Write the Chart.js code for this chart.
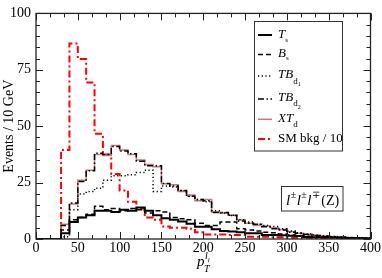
<!DOCTYPE html>
<html>
<head>
<meta charset="utf-8">
<script src="https://cdn.jsdelivr.net/npm/chart.js@4.4.1/dist/chart.umd.min.js"></script>
<style>
  html, body { margin: 0; padding: 0; background: #fff; }
</style>
</head>
<body>
<canvas id="c" width="382" height="278"></canvas>
<script>
// p_T bins, 10 GeV wide (lower edges)
const binLow = [0, 10, 20, 30, 40, 50, 60, 70, 80, 90,
                100, 110, 120, 130, 140, 150, 160, 170, 180, 190,
                200, 210, 220, 230, 240, 250, 260, 270, 280, 290,
                300, 310, 320, 330, 340, 350, 360, 370, 380, 390];
const binWidth = 10;

const Ts = [0, 0, 0, 2.5, 7.5, 9.5, 10.5, 12.5, 12.5, 12,
            13, 12.5, 14, 12.5, 10.5, 9.2, 8.5, 7.8, 6.8, 5.4,
            5.4, 4.3, 3.5, 3.3, 3, 2.6, 2.5, 1.8, 1.8, 1.7,
            1.4, 1.3, 0.9, 0.8, 0.8, 0.7, 0.5, 0.4, 0.3, 0.2];
const Bs = [0, 0, 0, 4, 8.5, 9.5, 11, 14.5, 13, 13.5,
            12.5, 13.5, 13, 11.5, 12.5, 12, 9.5, 9, 8.5, 7,
            6, 6, 7.5, 7.5, 4.5, 4, 3.5, 3, 2.8, 2.2,
            1.8, 1.5, 1.2, 1.0, 0.9, 0.7, 0.6, 0.5, 0.4, 0.3];
const TBd1 = [0, 0, 0, 1, 13, 20, 21, 22.5, 26, 28,
              28, 28.5, 29.5, 30.5, 21, 23.5, 23, 21.5, 19, 17.5,
              16.5, 12.5, 11.5, 10.5, 8.5, 7.5, 6.5, 6, 5.5, 4.5,
              3.5, 2.8, 2.2, 1.8, 1.3, 1.1, 0.9, 0.7, 0.5, 0.4];
const TBd2 = [0, 0, 0, 6, 16, 25.5, 30.3, 38, 37.5, 41,
              39, 37.8, 34.5, 32.5, 32.5, 24.6, 23.5, 21.5, 19, 17.5,
              17, 11.8, 11.8, 10.4, 8, 7, 6.5, 5.4, 4.5, 4,
              3, 2.5, 2, 1.5, 1.2, 1, 0.8, 0.6, 0.5, 0.3];
const XTd = [0, 0, 0, 6.5, 15.5, 26, 30.5, 37.5, 37, 41.5,
             39.5, 37.5, 35, 33, 32, 24.5, 24, 21, 19.5, 17,
             17.5, 12, 11.5, 10.5, 8.5, 7, 6, 5.8, 5, 4.2,
             3.2, 2.6, 2.1, 1.6, 1.3, 1.1, 0.9, 0.7, 0.5, 0.4];
const smBkg = [0, 0, 0, 39.5, 86.7, 79.8, 69.4, 46.6, 37.5, 28.8,
               21.5, 16.5, 13.5, 9.5, 8.5, 5.5, 5.0, 5.0, 4.5, 3.0,
               2.0, 2.0, 2.0, 1.8, 1.8, 1.0, 1.0, 1.0, 0.8, 0.8,
               0.6, 0.5, 0.5, 0.4, 0.3, 0.3, 0.2, 0.2, 0.1, 0.1];

const xTicks = [0, 50, 100, 150, 200, 250, 300, 350, 400];
const yTicks = [0, 25, 50, 75, 100];

const SERIF = '"Liberation Serif", "DejaVu Serif", serif';

const st = {
  Ts:   { color: '#000',    width: 2,   dash: [] },
  Bs:   { color: '#000',    width: 1.5, dash: [5, 3] },
  TBd1: { color: '#000',    width: 1.5, dash: [1.2, 2.5] },
  TBd2: { color: '#000',    width: 1.5, dash: [6, 2.5, 1.5, 2.5] },
  XTd:  { color: '#c47a7a', width: 1.5, dash: [] },
  sm:   { color: '#ff0000', width: 2,   dash: [7, 3, 2, 3] },
};

// histogram -> step points (last bin closed at upper edge)
function steps(vals) {
  const pts = binLow.map((x, i) => ({ x: x, y: vals[i] }));
  pts.push({ x: binLow[binLow.length - 1] + binWidth, y: vals[vals.length - 1] });
  return pts;
}

function ds(label, vals, s) {
  return {
    label,
    data: steps(vals),
    stepped: true,
    borderColor: s.color,
    borderWidth: s.width,
    borderDash: s.dash,
    pointRadius: 0,
    fill: false,
  };
}

function txt(ctx, s, x, y, size, italic) {
  ctx.font = (italic ? 'italic ' : '') + size + 'px ' + SERIF;
  ctx.fillText(s, x, y);
  return x + ctx.measureText(s).width;
}

function sample(ctx, x1, x2, y, s) {
  ctx.save();
  ctx.strokeStyle = s.color;
  ctx.lineWidth = s.width;
  ctx.setLineDash(s.dash);
  ctx.beginPath();
  ctx.moveTo(x1, y);
  ctx.lineTo(x2, y);
  ctx.stroke();
  ctx.restore();
}

const decor = {
  id: 'decor',
  afterDatasetsDraw(chart) {
    const { ctx, chartArea: a, scales: { x, y } } = chart;
    ctx.save();

    // frame + inward ticks on all four sides
    ctx.strokeStyle = '#222';
    ctx.lineWidth = 1.3;
    ctx.setLineDash([]);
    ctx.strokeRect(a.left, a.top, a.right - a.left, a.bottom - a.top);
    ctx.lineWidth = 1;
    ctx.beginPath();
    for (let i = 0; i <= 24; i++) {
      const px = Math.round(x.getPixelForValue(i * 50 / 3)) + 0.5;
      const len = i % 3 === 0 ? 7 : 4;
      ctx.moveTo(px, a.bottom); ctx.lineTo(px, a.bottom - len);
      ctx.moveTo(px, a.top);    ctx.lineTo(px, a.top + len);
    }
    for (let v = 0; v <= 100; v += 5) {
      const py = Math.round(y.getPixelForValue(v)) + 0.5;
      const len = v % 25 === 0 ? 7 : 4;
      ctx.moveTo(a.left, py);  ctx.lineTo(a.left + len, py);
      ctx.moveTo(a.right, py); ctx.lineTo(a.right - len, py);
    }
    ctx.stroke();

    // legend
    ctx.fillStyle = '#fff';
    ctx.fillRect(254.5, 21.5, 88, 129.5);
    ctx.strokeStyle = '#333';
    ctx.lineWidth = 1;
    ctx.strokeRect(254.5, 21.5, 88, 129.5);
    ctx.fillStyle = '#000';
    ctx.textBaseline = 'alphabetic';
    ctx.textAlign = 'left';
    const x1 = 258, x2 = 272, tx = 278;
    let e;

    sample(ctx, x1, x2, 35, st.Ts);
    e = txt(ctx, 'T', tx, 37.8, 13, true);
    txt(ctx, 's', e, 41.5, 7, false);

    sample(ctx, x1, x2, 54.5, st.Bs);
    e = txt(ctx, 'B', tx, 56.5, 13, true);
    txt(ctx, 's', e, 60.2, 7, false);

    sample(ctx, x1, x2, 76, st.TBd1);
    e = txt(ctx, 'TB', tx, 78.3, 13, true);
    e = txt(ctx, 'd', e, 83.5, 9, false);
    txt(ctx, '1', e, 86, 6, false);

    sample(ctx, x1, x2, 99, st.TBd2);
    e = txt(ctx, 'TB', tx, 101, 13, true);
    e = txt(ctx, 'd', e, 106.2, 9, false);
    txt(ctx, '2', e, 108.7, 6, false);

    sample(ctx, x1, x2, 119.3, st.XTd);
    e = txt(ctx, 'XT', tx, 121.8, 13, true);
    txt(ctx, 'd', e, 126.5, 9, false);

    sample(ctx, x1, x2, 139, st.sm);
    txt(ctx, 'SM bkg / 10', tx, 142, 13, false);

    // channel label
    ctx.fillStyle = '#fff';
    ctx.fillRect(281.5, 186.5, 61.5, 24.5);
    ctx.strokeStyle = '#333';
    ctx.strokeRect(281.5, 186.5, 61.5, 24.5);
    ctx.fillStyle = '#000';
    e = 286;
    ['\u00b1', '\u00b1', '\u2213'].forEach(sgn => {
      e = txt(ctx, 'l', e, 205, 15, true) + 0.5;
      e = txt(ctx, sgn, e, 198, 10, false) + 0.5;
    });
    txt(ctx, '(Z)', e + 0.5, 205, 14, false);

    // x axis title p_T^{l_i}
    const cx = 197;
    e = txt(ctx, 'p', cx, 266, 15, true);
    txt(ctx, 'T', e - 0.5, 272, 10, true);
    const e2 = txt(ctx, 'l', e + 0.5, 259, 10, true);
    txt(ctx, 'i', e2, 262, 7, true);

    ctx.restore();
  }
};

new Chart(document.getElementById('c'), {
  type: 'line',
  data: {
    datasets: [
      ds('Ts', Ts, st.Ts),
      ds('Bs', Bs, st.Bs),
      ds('TBd1', TBd1, st.TBd1),
      ds('TBd2', TBd2, st.TBd2),
      ds('XTd', XTd, st.XTd),
      ds('SM bkg / 10', smBkg, st.sm),
    ],
  },
  options: {
    responsive: false,
    animation: false,
    layout: { padding: { top: 5, right: 10, left: 0, bottom: 0 } },
    plugins: { legend: { display: false }, tooltip: { enabled: false } },
    scales: {
      x: {
        type: 'linear',
        min: 0,
        max: 400,
        afterFit: s => { s.height = 39; },
        afterBuildTicks: s => { s.ticks = xTicks.map(v => ({ value: v })); },
        grid: { display: false, drawTicks: false },
        border: { display: false },
        ticks: { color: '#000', padding: 1, maxRotation: 0, font: { family: SERIF, size: 14 } },
      },
      y: {
        min: 0,
        max: 100,
        afterFit: s => { s.width = 36; },
        afterBuildTicks: s => { s.ticks = yTicks.map(v => ({ value: v })); },
        grid: { display: false, drawTicks: false },
        border: { display: false },
        ticks: { color: '#000', padding: 5, font: { family: SERIF, size: 14 } },
        title: {
          display: true,
          text: 'Events / 10 GeV',
          color: '#000',
          padding: { top: 1, bottom: 0 },
          font: { family: SERIF, size: 14 },
        },
      },
    },
  },
  plugins: [decor],
});
</script>
</body>
</html>
